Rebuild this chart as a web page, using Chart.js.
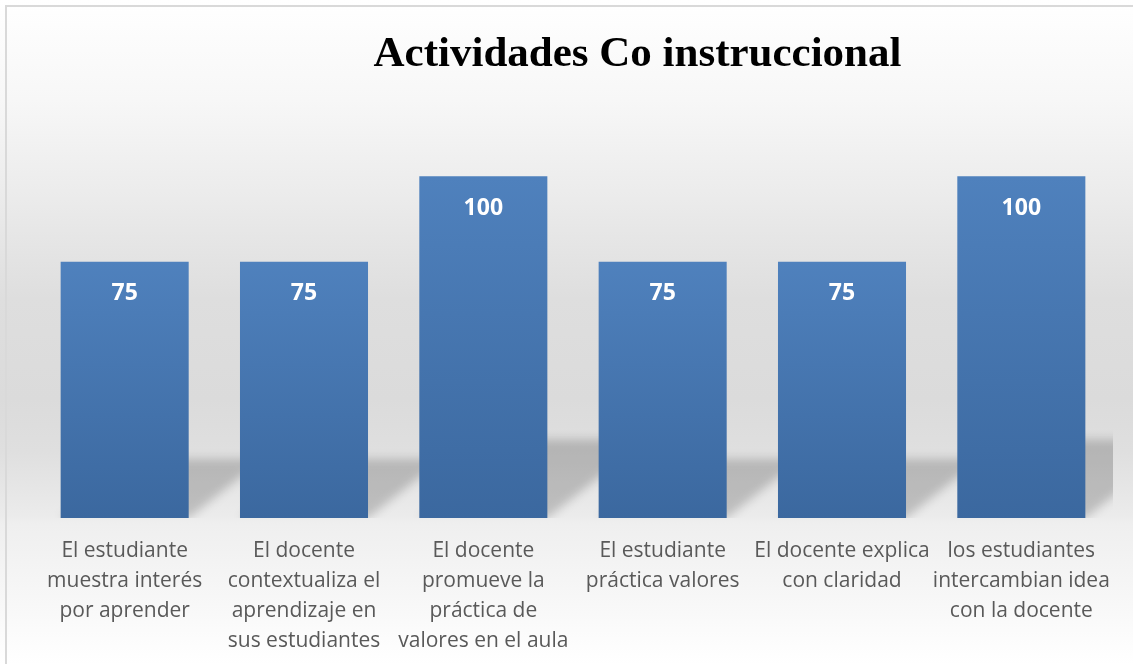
<!DOCTYPE html>
<html lang="es">
<head>
<meta charset="UTF-8">
<title>Actividades Co instruccional</title>
<script src="https://cdn.jsdelivr.net/npm/chart.js"></script>
<style>
  html, body { margin: 0; padding: 0; background: #ffffff; }
  #contenedor { width: 1133px; height: 664px; }
</style>
</head>
<body>
<div id="contenedor">
  <canvas id="grafico" width="1133" height="664"></canvas>
</div>
<script>
// Datos del gráfico
const titulo = "Actividades Co instruccional";
const categorias = [
  ["El estudiante", "muestra interés", "por aprender"],
  ["El docente", "contextualiza el", "aprendizaje en", "sus estudiantes"],
  ["El docente", "promueve la", "práctica de", "valores en el aula"],
  ["El estudiante", "práctica valores"],
  ["El docente explica", "con claridad"],
  ["los estudiantes", "intercambian idea", "con la docente"]
];
const valores = [75, 75, 100, 75, 75, 100];
const ejeMin = 0;
const ejeMax = 120;

// Fondo degradado y borde del área del gráfico
const fondo = {
  id: "fondo",
  beforeDraw(chart) {
    const { ctx, width, height } = chart;
    ctx.save();
    const g = ctx.createLinearGradient(0, 0, 0, height);
    g.addColorStop(0.00, "#ffffff");
    g.addColorStop(0.15, "#f7f7f7");
    g.addColorStop(0.30, "#ebebeb");
    g.addColorStop(0.45, "#dedede");
    g.addColorStop(0.60, "#dbdbdb");
    g.addColorStop(0.68, "#dfdfdf");
    g.addColorStop(0.775, "#ebebeb");
    g.addColorStop(0.79, "#efefef");
    g.addColorStop(0.86, "#f4f4f4");
    g.addColorStop(1.00, "#ffffff");
    ctx.fillStyle = g;
    ctx.fillRect(0, 0, width, height);
    ctx.strokeStyle = "#d9d9d9";
    ctx.lineWidth = 2;
    ctx.strokeRect(6, 6, width + 10, height + 10);
    ctx.restore();
  }
};

// Sombra en perspectiva detrás de cada barra
const sombra = {
  id: "sombra",
  beforeDatasetsDraw(chart) {
    const { ctx, chartArea } = chart;
    const meta = chart.getDatasetMeta(0);
    ctx.save();
    ctx.beginPath();
    ctx.rect(chartArea.left, chartArea.top, chartArea.right - chartArea.left + 2, chartArea.bottom - chartArea.top);
    ctx.clip();
    ctx.filter = "blur(5px)";
    ctx.fillStyle = "rgba(0, 0, 0, 0.19)";
    ctx.beginPath();
    meta.data.forEach((bar) => {
      const h = bar.base - bar.y;
      const izq = bar.x - bar.width / 2;
      const der = bar.x + bar.width / 2;
      const alto = h * 0.23;
      const desp = h * 0.29;
      ctx.moveTo(izq, bar.base);
      ctx.lineTo(der, bar.base);
      ctx.lineTo(der + desp, bar.base - alto);
      ctx.lineTo(izq + desp, bar.base - alto);
      ctx.closePath();
    });
    ctx.fill();
    ctx.restore();
  }
};

// Etiquetas de valor dentro de las barras + título
const etiquetas = {
  id: "etiquetas",
  afterDatasetsDraw(chart) {
    const { ctx } = chart;
    const meta = chart.getDatasetMeta(0);
    ctx.save();
    ctx.font = "bold 23px 'Open Sans'";
    ctx.fillStyle = "#ffffff";
    ctx.textAlign = "center";
    ctx.textBaseline = "middle";
    meta.data.forEach((bar, i) => {
      ctx.fillText(String(valores[i]), bar.x, bar.y + 32);
    });
    ctx.font = "bold 43px 'Liberation Serif'";
    ctx.fillStyle = "#000000";
    ctx.textBaseline = "alphabetic";
    ctx.fillText(titulo, 637.5, 66);
    ctx.restore();
  }
};

function colorBarra(c) {
  const chart = c.chart;
  const y = chart.scales.y;
  if (!y || c.raw === undefined) return "#4a7ab5";
  const tope = y.getPixelForValue(c.raw);
  const base = y.getPixelForValue(0);
  if (!isFinite(tope) || !isFinite(base) || tope === base) return "#4a7ab5";
  const g = chart.ctx.createLinearGradient(0, tope, 0, base);
  g.addColorStop(0, "#4f81bd");
  g.addColorStop(1, "#3b689f");
  return g;
}

new Chart(document.getElementById("grafico"), {
  type: "bar",
  data: {
    labels: categorias,
    datasets: [{
      data: valores,
      backgroundColor: colorBarra,
      borderWidth: 0,
      barPercentage: 0.714,
      categoryPercentage: 1
    }]
  },
  options: {
    responsive: false,
    animation: false,
    devicePixelRatio: 1,
    layout: { padding: { top: 108, left: 35, right: 22, bottom: 10 } },
    plugins: {
      legend: { display: false },
      title: { display: false },
      tooltip: { enabled: false }
    },
    scales: {
      x: {
        grid: { display: false, drawTicks: false },
        border: { display: false },
        afterFit(escala) { escala.height = 136; },
        ticks: {
          color: "#595959",
          font: { family: "'Open Sans'", size: 21, lineHeight: 30 / 21 },
          padding: 18,
          maxRotation: 0,
          autoSkip: false
        }
      },
      y: {
        display: false,
        min: ejeMin,
        max: ejeMax
      }
    }
  },
  plugins: [fondo, sombra, etiquetas]
});
</script>
</body>
</html>
